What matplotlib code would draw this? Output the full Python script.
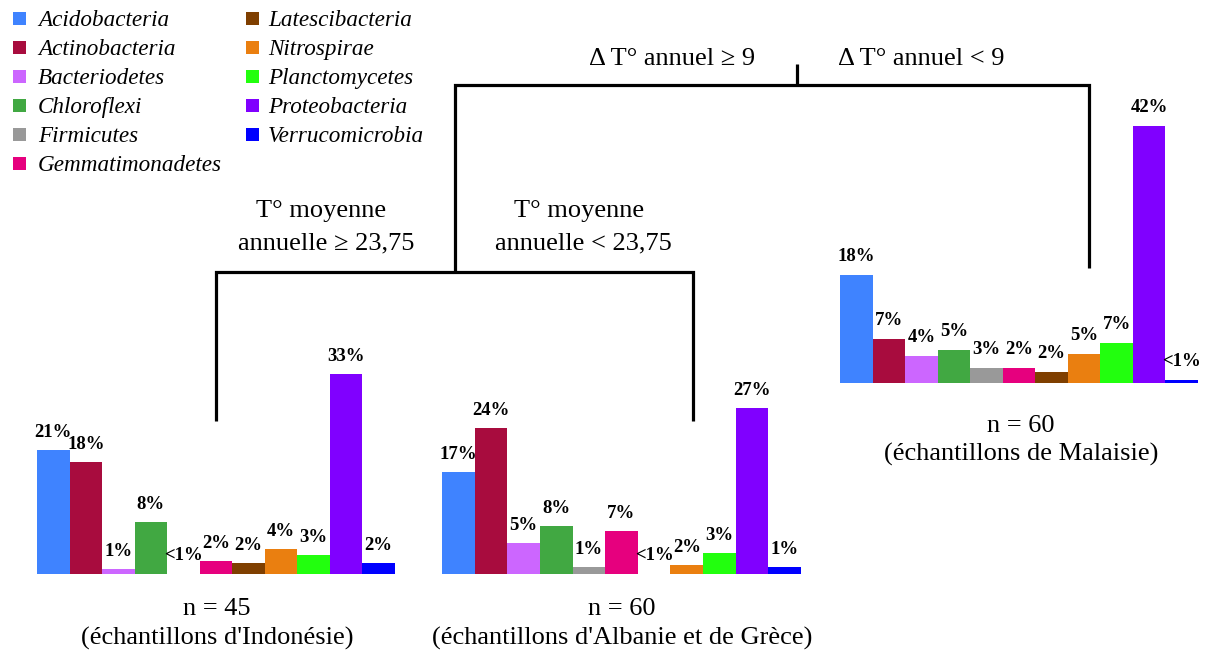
import matplotlib
matplotlib.use("Agg")
import matplotlib.pyplot as plt
from matplotlib.patches import Rectangle
from matplotlib import font_manager as fm

# ---------------- data ----------------
phyla = ["Acidobacteria", "Actinobacteria", "Bacteriodetes", "Chloroflexi",
         "Firmicutes", "Gemmatimonadetes", "Latescibacteria", "Nitrospirae",
         "Planctomycetes", "Proteobacteria", "Verrucomicrobia"]
colors = ["#3F83FF", "#A80C3E", "#CC66FF", "#41A842", "#999999", "#E6007E",
          "#7F3F00", "#EA7F10", "#22FF0E", "#8000FF", "#0000FF"]

indonesie = [20.55, 18.55, 0.72, 8.55, 0.0, 2.05, 1.72, 4.05, 3.05, 33.2, 1.72]
indonesie_lab = ["21%", "18%", "1%", "8%", "<1%", "2%", "2%", "4%", "3%", "33%", "2%"]

albanie_grece = [16.9, 24.2, 5.05, 7.9, 1.05, 7.05, 0.0, 1.4, 3.4, 27.55, 1.05]
albanie_grece_lab = ["17%", "24%", "5%", "8%", "1%", "7%", "<1%", "2%", "3%", "27%", "1%"]

malaisie = [17.95, 7.3, 4.45, 5.45, 2.45, 2.45, 1.8, 4.8, 6.6, 42.8, 0.45]
malaisie_lab = ["18%", "7%", "4%", "5%", "3%", "2%", "2%", "5%", "7%", "42%", "<1%"]

groups = [
    (indonesie, indonesie_lab, "n = 45", "(échantillons d'Indonésie)"),
    (albanie_grece, albanie_grece_lab, "n = 60", "(échantillons d'Albanie et de Grèce)"),
    (malaisie, malaisie_lab, "n = 60", "(échantillons de Malaisie)"),
]

# ---------------- fonts ----------------
SERIF = ["Liberation Serif", "DejaVu Serif"]
italic_file = None
for f in fm.findSystemFonts():
    name = f.split("/")[-1]
    if name.startswith("LiberationSerif-Italic"):
        italic_file = f
        break
if italic_file:
    leg_font = fm.FontProperties(fname=italic_file, size=16.7)
else:
    leg_font = fm.FontProperties(family="serif", style="italic", size=16.7)

# ---------------- layout ----------------
W, H = 1205, 652
fig = plt.figure(figsize=(W / 100, H / 100), dpi=100)

ov = fig.add_axes([0, 0, 1, 1])
ov.set_xlim(0, W)
ov.set_ylim(H, 0)
ov.axis("off")

boxes = [(37, 395, 573.5), (442, 801, 573.5), (840, 1198, 382.5)]
YMAX = 45.0
px_per_unit = 6.0
text_pos = [(217, 615, 645), (622, 615, 645), (1021, 432, 461)]

for (vals, labs, t1, t2), (x0, x1, base), (tx, ty1, ty2) in zip(groups, boxes, text_pos):
    ax = fig.add_axes([x0 / W, (H - base) / H, (x1 - x0) / W, YMAX * px_per_unit / H])
    xs = list(range(len(vals)))
    ax.bar(xs, vals, width=1.0, color=colors, linewidth=0)
    ax.set_xlim(-0.5, len(vals) - 0.5)
    ax.set_ylim(0, YMAX)
    ax.axis("off")
    for x, v, l in zip(xs, vals, labs):
        ax.annotate(l, (x, v), xytext=(0, 9.7), textcoords="offset points",
                    ha="center", va="baseline", fontsize=13.5, fontweight="bold",
                    family=SERIF, annotation_clip=False)
    ov.text(tx, ty1, t1, ha="center", va="baseline", fontsize=19, family=SERIF)
    ov.text(tx, ty2, t2, ha="center", va="baseline", fontsize=19, family=SERIF)

# ---------------- tree ----------------
LW = 2.3
kw = dict(color="black", lw=LW, solid_joinstyle="miter", solid_capstyle="butt")
ov.plot([796.5, 796.5], [64, 85], **kw)
ov.plot([455, 455, 1089, 1089], [272, 85, 85, 268], **kw)
ov.plot([216, 216, 693, 693], [421, 272, 272, 421], **kw)

ov.text(672, 65, "Δ T° annuel ≥ 9", ha="center", va="baseline", fontsize=19, family=SERIF)
ov.text(921, 65, "Δ T° annuel < 9", ha="center", va="baseline", fontsize=19, family=SERIF)
ov.text(321, 217, "T° moyenne", ha="center", va="baseline", fontsize=19, family=SERIF)
ov.text(326, 249, "annuelle ≥ 23,75", ha="center", va="baseline", fontsize=19, family=SERIF)
ov.text(579, 217, "T° moyenne", ha="center", va="baseline", fontsize=19, family=SERIF)
ov.text(583, 249, "annuelle < 23,75", ha="center", va="baseline", fontsize=19, family=SERIF)

# ---------------- legend ----------------
for i, (name, c) in enumerate(zip(phyla, colors)):
    col, row = (0, i) if i < 6 else (1, i - 6)
    sx = 13 if col == 0 else 246
    tx = 38 if col == 0 else 268
    cy = 18.5 + 29 * row
    ov.add_patch(Rectangle((sx, cy - 6.5), 13, 13, facecolor=c, edgecolor="none"))
    ov.text(tx, cy + 7.5, name, ha="left", va="baseline", fontproperties=leg_font)

fig.savefig("out.png", dpi=100)
